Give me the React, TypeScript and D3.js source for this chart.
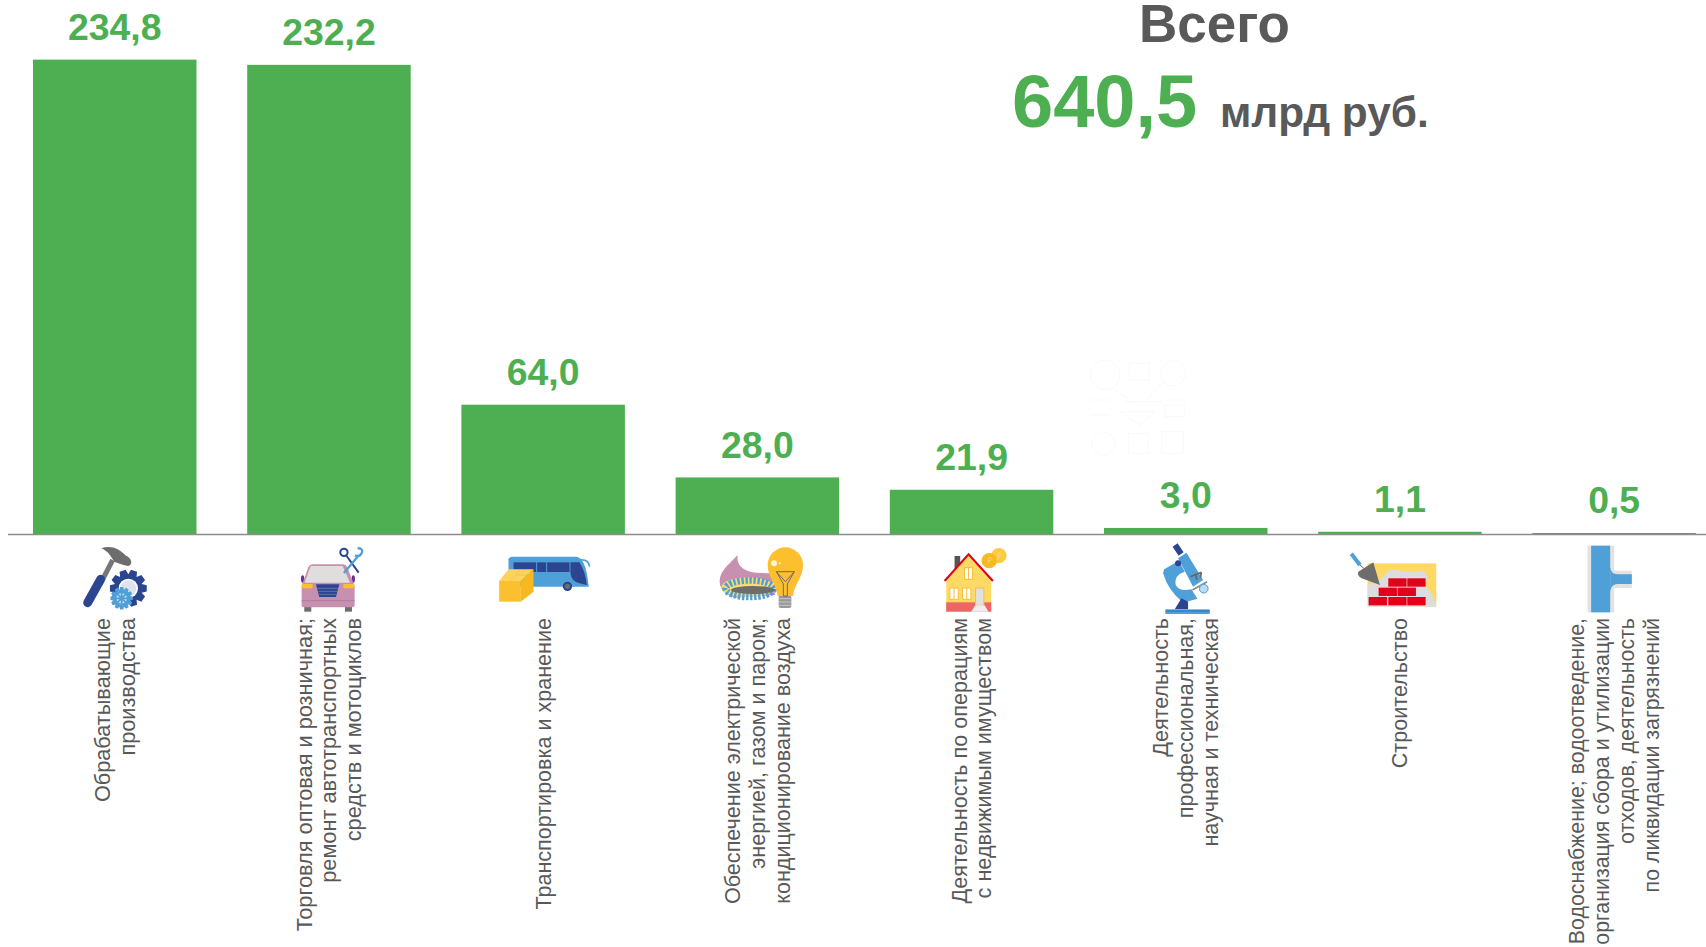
import React from "react";
import * as d3 from "d3";

const categories = ["manufacturing", "trade", "transport", "energy", "realty", "science", "construction", "water"];
const values = [234.8, 232.2, 64.0, 28.0, 21.9, 3.0, 1.1, 0.5];
const labelLines = [
  ["Обрабатывающие", "производства"],
  ["Торговля оптовая и розничная;", "ремонт автотранспортных", "средств и мотоциклов"],
  ["Транспортировка и хранение"],
  ["Обеспечение электрической", "энергией, газом и паром;", "кондиционирование воздуха"],
  ["Деятельность по операциям", "с недвижимым имуществом"],
  ["Деятельность", "профессиональная,", "научная и техническая"],
  ["Строительство"],
  ["Водоснабжение; водоотведение,", "организация сбора и утилизации", "отходов, деятельность", "по ликвидации загрязнений"],
];
const labelSizes = [21.7, 21.75, 21.55, 21.55, 21.6, 21.55, 21.6, 21.35];
const totalTitle = "Всего";
const totalValue = "640,5";
const totalUnit = "млрд руб.";

const GREEN = "#4EAF52";
const TEXT = "#595959";
const NAVY = "#2B4590";
const BLUE = "#4F9FD8";
const AMBER = "#FCBF2E";
const SAND = "#FFD966";
const PINK = "#C78FB0";
const GREY = "#6D6D6D";
const RED = "#E2001A";
const FONT = "'Liberation Sans', Arial, sans-serif";

const W = 1706, H = 947;
const BASE = 534;

const x = d3.scaleBand<string>().domain(categories).range([33, 33 + 214.2 * 8 - 50.7]).paddingInner(50.7 / 214.2).paddingOuter(0);
const y = d3.scaleLinear().domain([0, 234.8]).range([BASE, 59.6]);
const fmt = (v: number) => d3.format(".1f")(v).replace(".", ",");

function gearPath(cx: number, cy: number, ro: number, ri: number, n: number) {
  const pts: [number, number][] = [];
  const st = (Math.PI * 2) / n;
  for (let i = 0; i < n; i++) {
    const a = i * st;
    for (const [r, d] of [[ri, -0.5], [ro, -0.27], [ro, 0.27], [ri, 0.5]] as [number, number][]) {
      pts.push([cx + r * Math.cos(a + d * st), cy + r * Math.sin(a + d * st)]);
    }
  }
  return d3.line()(pts) + "Z";
}

const Hammer = () => (
  <g>
    <line x1={158} y1={90} x2={128} y2={148} stroke="#777" strokeWidth={15} />
    <line x1={122} y1={148} x2={83} y2={218} stroke={NAVY} strokeWidth={27} strokeLinecap="round" />
    <path d="M124,55 C150,44 178,55 196,76 C216,84 220,106 204,108 L188,104 L164,96 L150,76 C144,66 134,60 124,55Z" fill={GREY} />
    <path d={gearPath(205, 175, 56, 42, 10)} fill={NAVY} />
    <circle cx={205} cy={175} r={29} fill="#fff" />
    <circle cx={205} cy={175} r={24} fill={NAVY} opacity={0.15} />
    <path d={gearPath(185, 205, 34, 26, 12)} fill={BLUE} />
    <circle cx={185} cy={205} r={16} fill="#BBDCF1" />
    <path d="M185,185V225M165,205H205M171,191L199,219M199,191L171,219" stroke={BLUE} strokeWidth={5} />
  </g>
);

const Car = () => (
  <g>
    <ellipse cx={728} cy={147} rx={5} ry={11} fill="#6A2F93" />
    <ellipse cx={880} cy={147} rx={5} ry={11} fill="#6A2F93" />
    <rect x={733} y={230} width={21} height={15} fill={GREY} />
    <rect x={855} y={230} width={21} height={15} fill={GREY} />
    <path d="M725,168 L745,112 Q749,103 760,103 L850,103 Q858,103 862,112 L884,168 L884,226 Q884,232 876,232 L732,232 Q725,232 725,226Z" fill={PINK} />
    <path d="M752,108 L848,108 L870,158 L734,158Z" fill="#E0DEDC" />
    <rect x={725} y={162} width={33} height={13} rx={3} fill={AMBER} />
    <rect x={850} y={162} width={33} height={13} rx={3} fill={AMBER} />
    <path d="M768,163 L838,163 L828,201 L778,201Z" fill={NAVY} />
    <path d="M772,175H834M775,184H831M777,193H829" stroke="#8FA0CF" strokeWidth={1.5} />
    <line x1={725} y1={212} x2={884} y2={212} stroke="#A86F92" strokeWidth={2} />
    <circle cx={852} cy={67} r={11} fill="none" stroke={NAVY} strokeWidth={6} />
    <line x1={860} y1={78} x2={896} y2={128} stroke={NAVY} strokeWidth={6} />
    <line x1={893} y1={80} x2={852} y2={129} stroke={BLUE} strokeWidth={7} />
    <path d="M893,54 Q912,56 905,70 Q898,82 885,76" fill="none" stroke={BLUE} strokeWidth={7} />
  </g>
);

const Bus = () => (
  <g>
    <path d="M85,88 Q87,80 97,80 L290,80 Q312,86 320,130 L326,170 L85,170Z" fill={BLUE} />
    <path d="M300,90 Q326,88 328,110" fill="none" stroke={BLUE} strokeWidth={5} />
    <rect x={100} y={97} width={68} height={29} fill={NAVY} />
    <rect x={171} y={97} width={27} height={29} fill={NAVY} />
    <rect x={201} y={97} width={67} height={29} fill={NAVY} />
    <path d="M271,97 L298,97 Q316,125 320,165 L298,160 Q274,155 271,130Z" fill={NAVY} />
    <circle cx={262} cy={169} r={14} fill={NAVY} />
    <circle cx={262} cy={169} r={8} fill={GREY} />
    <polygon points="85,118 160,118 122,153 57,153" fill="#FDD25F" />
    <polygon points="57,153 122,153 122,215 57,215" fill={AMBER} />
    <polygon points="122,153 160,118 160,185 122,215" fill="#F8B820" />
    <path d="M92,153 L122,118 M105,135 L140,135" stroke="#F2C04E" strokeWidth={2} />
  </g>
);

const Energy = () => (
  <g>
    <path d="M718,150 C720,120 750,100 772,75 C768,100 782,118 810,125 C830,130 850,128 872,130 L884,195 L765,203 C735,196 716,178 718,150Z" fill={PINK} />
    <ellipse cx={803} cy={172} rx={80} ry={30} fill="#FDDC6E" />
    <ellipse cx={808} cy={176} rx={72} ry={25} fill="none" stroke={BLUE} strokeWidth={20} strokeDasharray="7 5" />
    <ellipse cx={818} cy={180} rx={66} ry={12} fill={GREY} />
    <rect x={895} y={196} width={38} height={38} rx={6} fill="#999" />
    <path d="M895,206H933M895,216H933M895,226H933" stroke="#DDD" strokeWidth={2} />
    <path d="M862,105 A53,53 0 1 1 968,105 C968,145 942,160 938,198 L892,198 C888,160 862,145 862,105Z" fill={AMBER} />
    <path d="M888,125H942L921,162V198H909V162Z M888,125L915,155L942,125" fill="none" stroke={GREY} strokeWidth={3} />
    <circle cx={881} cy={100} r={9} fill="#FFF3D0" />
    <circle cx={898} cy={100} r={3} fill="#FFF3D0" />
  </g>
);

const Coin = ({ cx, cy, fill }: { cx: number; cy: number; fill: string }) => (
  <g>
    <circle cx={cx} cy={cy} r={23} fill={fill} />
    <path d={`M${cx - 4},${cy + 11} L${cx},${cy - 10} Q${cx + 10},${cy - 9} ${cx + 7},${cy - 3} Q${cx + 4},${cy + 2} ${cx - 2},${cy}`} fill="none" stroke="#FDE08A" strokeWidth={2} />
  </g>
);

const House = () => (
  <g>
    <rect x={105} y={78} width={17} height={42} fill="#555" />
    <polygon points="147,72 215,150 215,245 80,245 80,150" fill={SAND} />
    <rect x={80} y={217} width={135} height={28} fill="#EF6566" />
    <polyline points="75,153 147,73 220,153" fill="none" stroke={RED} strokeWidth={6} />
    {[[135, 113, 24, 35], [91, 174, 25, 34], [129, 174, 25, 34]].map(([a, b, c, d], i) => (
      <g key={i}>
        <rect x={a} y={b} width={c} height={d} fill="#fff" stroke="#F6BE3C" strokeWidth={3} />
        <line x1={a + c / 2} y1={b} x2={a + c / 2} y2={b + d} stroke="#F6BE3C" strokeWidth={3} />
      </g>
    ))}
    <rect x={168} y={174} width={25} height={52} fill="#E0E0E0" stroke="#F6BE3C" strokeWidth={3} />
    <polygon points="167,226 195,226 207,245 155,245" fill="#EEE" />
    <Coin cx={238} cy={77} fill="#FCCB3F" />
    <Coin cx={209} cy={92} fill="#F8B820" />
  </g>
);

const Microscope = () => (
  <g>
    <line x1={766} y1={45} x2={784} y2={72} stroke={NAVY} strokeWidth={18} />
    <path d="M775,85 L800,68 L850,150 L820,170Z" fill={BLUE} />
    <path d="M733,118 L778,92 L795,125 Q762,135 768,165 Q778,186 815,178 L833,206 L790,218 Q745,182 730,130Z" fill={BLUE} />
    <circle cx={775} cy={100} r={9} fill={NAVY} />
    <polygon points="765,238 785,205 805,215 805,238" fill={NAVY} />
    <rect x={737} y={238} width={133} height={14} fill={BLUE} />
    <line x1={737} y1={243} x2={870} y2={243} stroke="#2E6FB5" strokeWidth={3} />
    <path d="M812,140 L845,127 M828,135 L832,150 M845,127 L842,143" stroke="#666" strokeWidth={5} fill="none" />
    <line x1={818} y1={180} x2={862} y2={155} stroke="#888" strokeWidth={5} />
    <circle cx={852} cy={176} r={13} fill="#BBDCF1" stroke={BLUE} strokeWidth={3} />
  </g>
);

const Bricks = () => {
  const rows: [number, number[]][] = [[145, [175, 232]], [173, [146, 203]], [201, [116, 175, 232]]];
  return (
    <g>
      <rect x={113} y={100} width={206} height={130} fill={SAND} />
      <path d="M113,230 L113,165 Q140,160 165,135 Q175,115 200,120 Q240,130 280,122 Q302,140 285,165 Q310,190 319,230Z" fill="#DDD" />
      {rows.map(([ry, xs]) => xs.map((rx) => <rect key={`${ry}-${rx}`} x={rx} y={ry} width={55} height={25} fill={RED} />))}
      <line x1={88} y1={103} x2={105} y2={118} stroke="#666" strokeWidth={3} />
      <line x1={64} y1={71} x2={90} y2={105} stroke={BLUE} strokeWidth={12} />
      <path d="M85,125 L130,97 L150,165 L95,145 Q80,135 85,125Z" fill={GREY} />
    </g>
  );
};

const Pipe = () => (
  <g>
    <rect x={772} y={47} width={80} height={200} fill="#E2E2E2" />
    <rect x={850} y={122} width={55} height={52} fill="#E2E2E2" />
    <rect x={783} y={47} width={57} height={200} fill={BLUE} />
    <path d="M840,112 Q843,133 862,133 L905,133 L905,162 L862,162 Q843,162 840,185Z" fill={BLUE} />
  </g>
);

// Barely visible near-white line art behind the sixth column.
const Watermark = () => (
  <g transform="translate(1060,350) scale(0.3333)" fill="none" stroke="#F9F9F9" strokeWidth={3}>
    <circle cx={135} cy={75} r={45} />
    <rect x={208} y={40} width={60} height={50} />
    <circle cx={340} cy={70} r={38} />
    <path d="M90,150H150M90,195H150M190,155H310M315,150H375" />
    <rect x={315} y={165} width={58} height={35} />
    <path d="M180,185H285L240,225ZM165,120L225,160M310,95L260,150" />
    <circle cx={130} cy={280} r={35} />
    <rect x={205} y={250} width={60} height={60} />
    <rect x={305} y={245} width={65} height={65} />
  </g>
);

const icons = [Hammer, Car, Bus, Energy, House, Microscope, Bricks, Pipe];
// Icon artwork is authored in a local frame; this is the frame's shift from the band centre.
const iconFrames = [-54.75, -269, -63, -277, -52, -266, -70, -284];

export default function App() {
  return (
    <svg width={W} height={H} viewBox={`0 0 ${W} ${H}`} style={{ position: "absolute", left: 0, top: 0, display: "block", background: "#fff" }} fontFamily={FONT}>
      <Watermark />
      {categories.map((c, i) => (
        <rect key={c} x={x(c)} y={y(values[i])} width={x.bandwidth()} height={BASE - y(values[i])} fill={GREEN} />
      ))}
      <line x1={8} y1={BASE + 0.5} x2={W} y2={BASE + 0.5} stroke="#8C8C8C" strokeWidth={1.5} />
      {categories.map((c, i) => {
        const cx = x(c)! + x.bandwidth() / 2;
        const Icon = icons[i];
        return (
          <g key={c}>
            <text x={cx} y={y(values[i]) - 19.5} textAnchor="middle" fontSize={37.4} fontWeight={700} fill={GREEN}>
              {fmt(values[i])}
            </text>
            <g transform={`translate(${cx + iconFrames[i]},530) scale(${1 / 3})`}>
              <Icon />
            </g>
            {labelLines[i].map((ln, j) => {
              const n = labelLines[i].length;
              const lx = cx + (j - (n - 1) / 2) * 24.8 + 7.5;
              return (
                <text key={j} transform={`translate(${lx},618) rotate(-90)`} textAnchor="end" fontSize={labelSizes[i]} fill={TEXT}>
                  {ln}
                </text>
              );
            })}
          </g>
        );
      })}
      <text x={1214.5} y={42} textAnchor="middle" fontSize={53} fontWeight={700} fill={TEXT}>{totalTitle}</text>
      <text x={1012} y={127} fontSize={74} fontWeight={700} fill={GREEN}>{totalValue}</text>
      <text x={1220} y={127} fontSize={42.4} fontWeight={700} fill={TEXT}>{totalUnit}</text>
    </svg>
  );
}
